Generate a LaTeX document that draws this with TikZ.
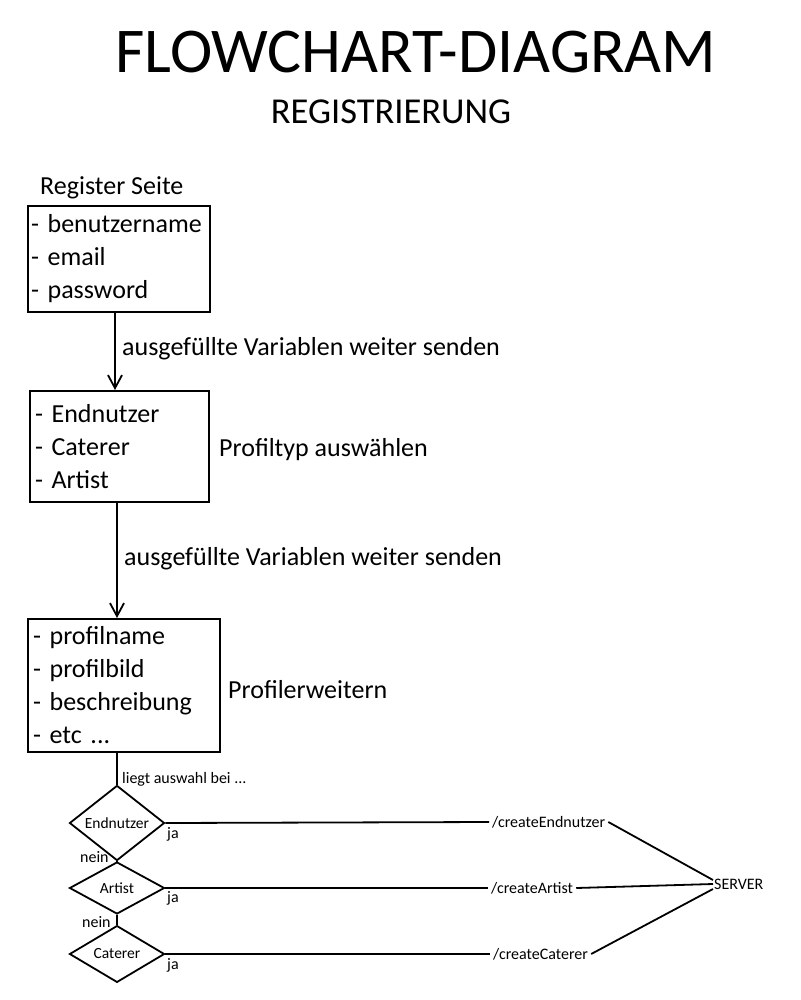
\documentclass[tikz,border=0pt]{standalone}
\usepackage{fontspec}
\setmainfont{Carlito}
\usepackage{tikz}
\usetikzlibrary{arrows.meta,positioning,calc,shapes.geometric}

\begin{document}
\begin{tikzpicture}[x=1pt, y=-1pt,
  listbox/.style={draw=black, line width=2pt, align=left, inner xsep=5pt,
    inner ysep=0pt, font=\fontsize{26}{33}\selectfont},
  biglabel/.style={anchor=west, inner sep=0pt, font=\fontsize{26}{33}\selectfont},
  smalllabel/.style={anchor=west, inner sep=0pt, font=\fontsize{16}{19}\selectfont},
  choice/.style={draw=black, diamond, line width=1.8pt, inner sep=0pt,
    minimum width=95pt, minimum height=52pt, font=\fontsize{15.5}{18}\selectfont},
  route/.style={inner sep=3pt, font=\fontsize{16}{19}\selectfont},
  flow/.style={-{Straight Barb[length=13pt, width=14pt, line width=1.8pt]}, line width=1.8pt},
  link/.style={line width=1.8pt}
]
\useasboundingbox (0,0) rectangle (800,1000);

% titles
\node[font=\fontsize{63.8}{70}\selectfont, inner sep=0pt] (title) at (416,52) {FLOWCHART-DIAGRAM};
\node[font=\fontsize{36.5}{42}\selectfont, inner sep=0pt] (subtitle) at (391,112) {REGISTRIERUNG};

% boxes
\node[listbox, text width=176pt, inner xsep=3pt, minimum height=106pt] (register) at (119,259)
  {- benutzername\\- email\\- password};
\node[biglabel] (registerlabel) at (40,188) {Register Seite};
\node[listbox, text width=169pt, minimum height=111pt] (profiltyp) at (119.5,446.5)
  {- Endnutzer\\- Caterer\\- Artist};
\node[biglabel] (profiltyplabel) at (219,450) {Profiltyp auswählen};
\node[listbox, text width=182pt, minimum height=133pt] (profil) at (124,685.5)
  {- profilname\\- profilbild\\- beschreibung\\- etc ...};
\node[biglabel] (profillabel) at (228,690) {Profilerweitern};

% arrows between boxes
\coordinate (lane1) at (115,0);
\coordinate (lane2) at (117,0);
\draw[flow] (lane1 |- register.south) -- (lane1 |- profiltyp.north);
\node[biglabel] (send1) at (122,349) {ausgefüllte Variablen weiter senden};
\draw[flow] (lane2 |- profiltyp.south) -- (lane2 |- profil.north);
\node[biglabel] (send2) at (124,559) {ausgefüllte Variablen weiter senden};

% decisions
\node[choice] (endnutzer) at (117,823) {Endnutzer};
\node[choice] (artist) at (117,888) {Artist};
\node[choice] (caterer) at (117,954) {Caterer};
\draw[link] (lane2 |- profil.south) -- (endnutzer.north);
\node[smalllabel] (auswahl) at (122,779) {liegt auswahl bei ...};
\draw[link] (endnutzer.south) -- (artist.north);
\draw[link] (artist.south) -- (caterer.north);
\node[smalllabel] at (80,857) {nein};
\node[smalllabel] at (82,922) {nein};
\node[smalllabel] at (167,834) {ja};
\node[smalllabel] at (167,898) {ja};
\node[smalllabel] at (167,965) {ja};

% routes to server
\node[route, anchor=west] (rEndnutzer) at (489,822) {/createEndnutzer};
\node[route, anchor=west] (rArtist) at (488,888) {/createArtist};
\node[route, anchor=west] (rCaterer) at (490,954) {/createCaterer};
\node[route, anchor=west, inner sep=1pt] (server) at (713,884) {SERVER};
\draw[link] (endnutzer.east) -- (rEndnutzer.west);
\draw[link] (artist.east) -- (rArtist.west);
\draw[link] (caterer.east) -- (rCaterer.west);
\draw[link] (rEndnutzer.east) -- ($(server.west)+(0,-4)$);
\draw[link] (rArtist.east) -- (server.west);
\draw[link] (rCaterer.east) -- ($(server.west)+(0,5)$);
\end{tikzpicture}
\end{document}
